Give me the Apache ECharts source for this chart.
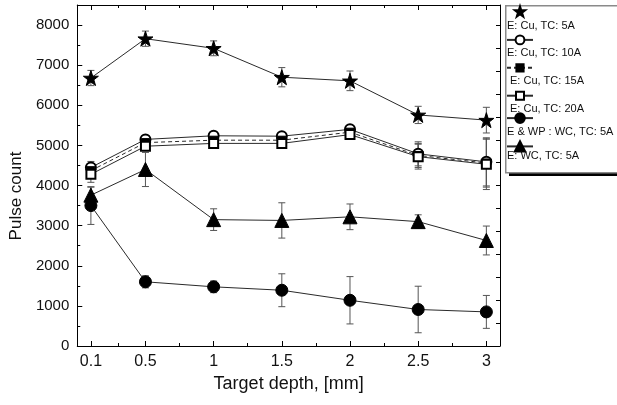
<!DOCTYPE html>
<html>
<head>
<meta charset="utf-8">
<script src="https://cdn.jsdelivr.net/npm/echarts@6/dist/echarts.min.js"></script>
<style>html,body{margin:0;padding:0;background:#fff;}#c{width:617px;height:405px;}</style>
</head>
<body>
<div id="c"></div>
<script>
// ---- data ----
var depth = [0.1, 0.5, 1, 1.5, 2, 2.5, 3];
var xLabels = [0.1, 0.5, 1, 1.5, 2, 2.5, 3];
var xMinorTicks = [0.3, 0.75, 1.25, 1.75, 2.25, 2.75];
var yLabels = [0, 1000, 2000, 3000, 4000, 5000, 6000, 7000, 8000];
var yMinorTicks = [500, 1500, 2500, 3500, 4500, 5500, 6500, 7500];

var names = ['E: Cu, TC: 5A', 'E: Cu, TC: 10A', 'E: Cu, TC: 15A', 'E: Cu, TC: 20A', 'E & WP : WC, TC: 5A', 'E: WC, TC: 5A'];
var cu5 = [6680, 7660, 7420, 6700, 6610, 5760, 5630];
var cu5Err = [190, 190, 185, 240, 245, 215, 320];
var cu10 = [4450, 5150, 5240, 5230, 5400, 4790, 4590];
var cu10Err = [150, 100, 80, 80, 80, 300, 600];
var cu15 = [4370, 5070, 5130, 5130, 5330, 4750, 4560];
var cu15Err = [150, 100, 80, 80, 80, 300, 600];
var cu20 = [4280, 4980, 5050, 5050, 5270, 4720, 4530];
var cu20Err = [200, 100, 80, 80, 80, 310, 630];
var wcwp = [3500, 1600, 1475, 1390, 1140, 910, 850];
var wcwpErr = [470, 150, 145, 410, 590, 580, 410];
var wc = [3760, 4400, 3150, 3130, 3220, 3100, 2630];
var wcErr = [200, 425, 270, 440, 320, 170, 360];

var STAR = 'path://M50,0 L61.8,35.1 L98.9,35.1 L69.1,56.9 L80.3,91.8 L50,70.2 L19.7,91.8 L30.9,56.9 L1.1,35.1 L38.2,35.1 Z';

var seriesDefs = [
  {name: names[0], vals: cu5, err: cu5Err, symbol: STAR, size: 15, dash: 'solid'},
  {name: names[1], vals: cu10, err: cu10Err, symbol: 'emptyCircle', size: 10, dash: 'solid'},
  {name: names[2], vals: cu15, err: cu15Err, symbol: 'rect', size: 8, dash: [4, 3]},
  {name: names[3], vals: cu20, err: cu20Err, symbol: 'emptyRect', size: 9, dash: 'solid'},
  {name: names[4], vals: wcwp, err: wcwpErr, symbol: 'circle', size: 12, dash: 'solid'},
  {name: names[5], vals: wc, err: wcErr, symbol: 'triangle', size: 14, dash: 'solid'}
];

var FONT = 'Liberation Sans, Arial, sans-serif';
var series = [];
seriesDefs.forEach(function (d) {
  var errData = depth.map(function (x, i) { return [x, d.vals[i] - d.err[i], d.vals[i] + d.err[i]]; });
  series.push({
    type: 'custom',
    name: d.name + ' err',
    xAxisIndex: 0, yAxisIndex: 0,
    silent: true,
    z: 1,
    renderItem: function (params, api) {
      var x = api.value(0);
      var lo = api.coord([x, api.value(1)]);
      var hi = api.coord([x, api.value(2)]);
      var w = 3.5;
      var st = {stroke: '#555', lineWidth: 1, fill: null};
      return {
        type: 'group',
        children: [
          {type: 'line', shape: {x1: lo[0], y1: lo[1], x2: hi[0], y2: hi[1]}, style: st},
          {type: 'line', shape: {x1: lo[0] - w, y1: lo[1], x2: lo[0] + w, y2: lo[1]}, style: st},
          {type: 'line', shape: {x1: hi[0] - w, y1: hi[1], x2: hi[0] + w, y2: hi[1]}, style: st}
        ]
      };
    },
    encode: {x: 0, y: [1, 2]},
    data: errData
  });
});
seriesDefs.forEach(function (d) {
  series.push({
    type: 'line',
    name: d.name,
    xAxisIndex: 0, yAxisIndex: 0,
    z: 3,
    symbol: d.symbol,
    symbolSize: d.size,
    showAllSymbol: true,
    itemStyle: {color: '#000', borderColor: '#000', borderWidth: 1},
    lineStyle: {color: '#2a2a2a', width: 1, type: d.dash},
    emphasis: {disabled: true},
    animation: false,
    data: depth.map(function (x, i) { return [x, d.vals[i]]; })
  });
});

// legends: one per entry, icon above text
var legendTops = [11.7, 40, 67.7, 95.7, 118.3, 146.7];
var legendHeights = [13, 11, 9, 10, 12, 13];
var legends = seriesDefs.map(function (d, i) {
  var item = {name: d.name};
  if (i === 0) item.lineStyle = {opacity: 0};
  return {
    data: [item],
    left: 506,
    top: legendTops[i] - legendHeights[i] / 2,
    padding: 0,
    itemWidth: 26,
    itemHeight: legendHeights[i],
    selectedMode: false,
    formatter: function () { return ' '; },
    textStyle: {fontSize: 1}
  };
});
var textY = [25.5, 52.5, 80.5, 108.5, 131.5, 156];
var textX = [507, 507, 510, 510, 507, 507];
var graphics = [
  {type: 'rect', left: 509, top: 172, shape: {width: 120, height: 4}, style: {fill: '#000'}, z: 0},
  {type: 'rect', left: 505, top: 5, shape: {width: 130, height: 167}, style: {fill: '#fff', stroke: '#8a8a8a', lineWidth: 1.5}, z: 0}
];
names.forEach(function (n, i) {
  graphics.push({type: 'text', x: textX[i], y: textY[i], z: 10,
    style: {text: n, font: '11px ' + FONT, fill: '#111', verticalAlign: 'middle', align: 'left'}});
});

var axisLineStyle = {color: '#000', width: 1};
var option = {
  animation: false,
  backgroundColor: '#fff',
  grid: {left: 75.5, right: 117, top: 5, bottom: 59, containLabel: false},
  xAxis: [
    {type: 'value', position: 'bottom', min: 0, max: 3.1,
      name: 'Target depth, [mm]', nameLocation: 'middle', nameGap: 29,
      nameTextStyle: {fontSize: 18, fontFamily: FONT, color: '#111'},
      axisLine: {show: true, onZero: false, lineStyle: axisLineStyle},
      axisTick: {show: true, inside: true, length: 5, customValues: xLabels, lineStyle: axisLineStyle},
      axisLabel: {show: true, customValues: xLabels, fontSize: 16, fontFamily: FONT, color: '#111', margin: 8,
        formatter: function (v) { return String(v); }},
      splitLine: {show: false}},
    {type: 'value', position: 'top', min: 0, max: 3.1,
      axisLine: {show: true, onZero: false, lineStyle: axisLineStyle},
      axisTick: {show: true, inside: true, length: 5, customValues: xLabels, lineStyle: axisLineStyle},
      axisLabel: {show: false}, splitLine: {show: false}},
    {type: 'value', position: 'bottom', min: 0, max: 3.1,
      axisLine: {show: false, onZero: false},
      axisTick: {show: true, inside: true, length: 3, customValues: xMinorTicks, lineStyle: axisLineStyle},
      axisLabel: {show: false}, splitLine: {show: false}},
    {type: 'value', position: 'top', min: 0, max: 3.1,
      axisLine: {show: false, onZero: false},
      axisTick: {show: true, inside: true, length: 3, customValues: xMinorTicks, lineStyle: axisLineStyle},
      axisLabel: {show: false}, splitLine: {show: false}}
  ],
  yAxis: [
    {type: 'value', position: 'left', min: 0, max: 8500,
      name: 'Pulse count', nameLocation: 'middle', nameGap: 50,
      nameTextStyle: {fontSize: 17, fontFamily: FONT, color: '#111', padding: [0, 41, 0, 0]},
      axisLine: {show: true, onZero: false, lineStyle: axisLineStyle},
      axisTick: {show: true, inside: true, length: 5, customValues: yLabels, lineStyle: axisLineStyle},
      axisLabel: {show: true, customValues: yLabels, fontSize: 15, fontFamily: FONT, color: '#111', margin: 8,
        formatter: function (v) { return String(v); }},
      splitLine: {show: false}},
    {type: 'value', position: 'left', min: 0, max: 8500,
      axisLine: {show: false, onZero: false},
      axisTick: {show: true, inside: true, length: 3, customValues: yMinorTicks, lineStyle: axisLineStyle},
      axisLabel: {show: false}, splitLine: {show: false}},
    {type: 'value', position: 'right', min: 0, max: 7440, interval: 500,
      axisLine: {show: true, onZero: false, lineStyle: axisLineStyle},
      axisTick: {show: true, inside: true, length: 4, lineStyle: axisLineStyle},
      axisLabel: {show: false}, splitLine: {show: false}}
  ],
  legend: legends,
  graphic: graphics,
  series: series
};
var chart = echarts.init(document.getElementById('c'), null, {renderer: 'canvas'});
chart.setOption(option);
</script>
</body>
</html>
